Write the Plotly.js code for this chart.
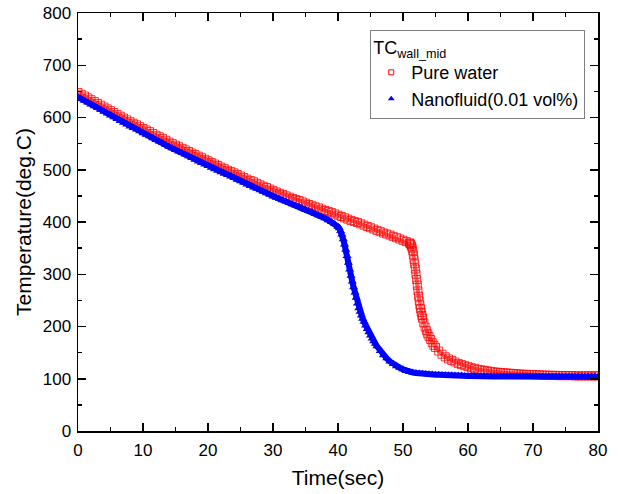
<!DOCTYPE html>
<html>
<head>
<meta charset="utf-8">
<script src="https://cdn.plot.ly/plotly-3.0.1.min.js"></script>
<style>html,body{margin:0;padding:0;background:#fff;}#chart{width:618px;height:494px;}</style>
</head>
<body>
<div id="chart"></div>
<script>
// Pure water (TC wall_mid)
var waterTime = [
0,0.5,1,1.5,2,2.5,3,3.5,4,4.5,5,5.5,6,6.5,7,7.5,8,8.5,9,9.5,
10,10.5,11,11.5,12,12.5,13,13.5,14,14.5,15,15.5,16,16.5,17,17.5,18,18.5,19,19.5,
20,20.5,21,21.5,22,22.5,23,23.5,24,24.5,25,25.5,26,26.5,27,27.5,28,28.5,29,29.5,
30,30.5,31,31.5,32,32.5,33,33.5,34,34.5,35,35.5,36,36.5,37,37.5,38,38.5,39,39.5,
40,40.5,41,41.5,42,42.5,43,43.5,44,44.5,45,45.5,46,46.5,47,47.5,48,48.5,49,49.5,
50,50.5,51,51.1,51.2,51.3,51.4,51.5,51.6,51.7,51.8,51.9,52,52.1,52.2,52.3,52.4,52.5,52.6,52.7,52.8,52.9,
53,53.2,53.4,53.6,53.8,54,54.25,54.5,54.75,55,55.5,56,56.5,57,57.5,58,58.5,59,59.5,
60,60.5,61,61.5,62,62.5,63,63.5,64,64.5,65,65.5,66,66.5,67,67.5,68,68.5,69,69.5,
70,70.5,71,71.5,72,72.5,73,73.5,74,74.5,75,75.5,76,76.5,77,77.5,78,78.5,79,79.5,80];
var waterTemp = [
648,644.5,641,637.5,634,630.5,627,623.5,620,616.5,613,609.5,606,602.5,599,595.5,592,589,586,582.5,
579,576,573,569.5,566,563,560,556.5,553,550,547,544,541,538,535,532,529,526,523,520,
517,514,511,508,505,502,499,496.5,494,491,488,485,482,479.5,477,474,471,468.5,466,463,
460,457.5,455,452.5,450,447.5,445,443,441,438.5,436,433.5,431,429,427,424.5,422,420,418,415.5,
413,410.5,408,405.5,403,401,399,396.5,394,391.5,389,386.5,384,381.5,379,377,375,372.5,370,367.5,
365,362.5,360,359,357,354,350,345,337,328,320,310,300,290,279,268,258,249,241,234,227,221,
216,207,199,192,186,181,175,169,164,160,153,147,142,138,135,132,129,127,125,
123,121,120,118,117,116,115,114,113,112.5,112,111.5,111,110.5,110,109.5,109,108.5,108.5,108,
108,107.5,107.5,107,107,106.5,106.5,106.5,106,106,106,106,106,105.5,105.5,105.5,105.5,105.5,105.5,105.5,105.5];

// Nanofluid (0.01 vol%)
var nanoTime = [
0,0.5,1,1.5,2,2.5,3,3.5,4,4.5,5,5.5,6,6.5,7,7.5,8,8.5,9,9.5,
10,10.5,11,11.5,12,12.5,13,13.5,14,14.5,15,15.5,16,16.5,17,17.5,18,18.5,19,19.5,
20,20.5,21,21.5,22,22.5,23,23.5,24,24.5,25,25.5,26,26.5,27,27.5,28,28.5,29,29.5,
30,30.5,31,31.5,32,32.5,33,33.5,34,34.5,35,35.5,36,36.5,37,37.5,38,38.5,39,39.5,
40,40.2,40.4,40.6,40.8,41,41.2,41.4,41.6,41.8,42,42.2,42.4,42.6,42.8,43,43.2,43.4,43.6,43.8,
44,44.25,44.5,44.75,45,45.25,45.5,45.75,46,46.5,47,47.5,48,48.5,49,49.5,
50,50.5,51,51.5,52,52.5,53,53.5,54,54.5,55,55.5,56,56.5,57,57.5,58,58.5,59,59.5,
60,60.5,61,61.5,62,62.5,63,63.5,64,64.5,65,65.5,66,66.5,67,67.5,68,68.5,69,69.5,
70,70.5,71,71.5,72,72.5,73,73.5,74,74.5,75,75.5,76,76.5,77,77.5,78,78.5,79,79.5,80];
var nanoTemp = [
639,635.5,632,628.5,625,621.5,618,614.5,611,607.5,604,600.5,597,593.5,590,586.5,583,580,577,573.5,
570,567,564,560.5,557,554,551,547.5,544,541,538,535,532,529,526,522.5,519,516,513,510,
507,504,501,498,495,492.5,490,487,484,481,478,475,472,469,466,463.5,461,458,455,452,
449,446.5,444,441.5,439,436.5,434,431.5,429,426.5,424,421.5,419,416,413,410,407,403.5,400,396,
391,388,383,376,367,357,347,335,322,309,297,286,275,265,255,244,235,228,221,215,
209,202,195,189,183,177,172,167,162,153,145,139,133,128,124,121,
118,115,113,112,111,110,109.5,109,108.5,108,107.5,107.5,107,107,106.5,106.5,106,106,106,105.5,
105.5,105.5,105,105,105,105,104.5,104.5,104.5,104.5,104.5,104.5,104.5,104,104,104,104,104,104,104,
104,104,104,104,104,104,104,104,104,104,104,104,104,104,104,104,104,104,104,104,104];

var xTickVals = [0,10,20,30,40,50,60,70,80];
var yTickVals = [0,100,200,300,400,500,600,700,800];

var FONT = 'Liberation Sans, Arial, sans-serif';

var traces = [
  {x: waterTime, y: waterTemp, type: 'scatter', mode: 'lines+markers', name: 'Pure water', showlegend: false,
   line: {color: 'rgba(255,40,40,0.75)', width: 4},
   marker: {symbol: 'square-open', size: 8, color: 'rgba(255,0,0,0.8)', line: {width: 1, color: 'rgba(255,0,0,0.8)'}}},
  {x: nanoTime, y: nanoTemp, type: 'scatter', mode: 'lines+markers', name: 'Nanofluid(0.01 vol%)', showlegend: false,
   line: {color: '#0000ff', width: 6},
   marker: {symbol: 'triangle-up', size: 8, color: '#0000ff', line: {width: 0}}},
  {x: [null], y: [null], type: 'scatter', mode: 'markers', name: 'Pure water',
   marker: {symbol: 'square-open', size: 5, color: '#ff0000', line: {width: 1, color: '#ff6060'}}},
  {x: [null], y: [null], type: 'scatter', mode: 'markers', name: 'Nanofluid(0.01 vol%)',
   marker: {symbol: 'triangle-up', size: 6, color: '#0000ff', line: {width: 0}}}
];

var axisCommon = {
  showgrid: false, zeroline: false, showline: true, mirror: 'allticks',
  linecolor: '#000', linewidth: 1.5,
  ticks: 'inside', ticklen: 8, tickwidth: 1.5, tickcolor: '#000',
  tickfont: {family: FONT, size: 17, color: '#000'}
};

var layout = {
  width: 618, height: 494,
  margin: {l: 78, r: 20, t: 13, b: 63},
  paper_bgcolor: '#ffffff', plot_bgcolor: '#ffffff',
  font: {family: FONT, color: '#000', size: 17},
  showlegend: true,
  legend: {
    x: 0.562, y: 0.96, xanchor: 'left', yanchor: 'top',
    bgcolor: '#ffffff', bordercolor: '#808080', borderwidth: 1,
    font: {family: FONT, size: 18, color: '#000'},
    title: {text: 'TC<sub>wall_mid</sub>', font: {family: FONT, size: 18, color: '#000'}},
    itemsizing: 'trace', tracegroupgap: 0
  },
  xaxis: Object.assign({}, axisCommon, {
    range: [0, 80], tickvals: xTickVals, ticktext: xTickVals.map(String),
    ticklabelstandoff: 3,
    minor: {dtick: 5, ticks: 'inside', ticklen: 4, tickwidth: 1.5, tickcolor: '#000', showgrid: false},
    title: {text: 'Time(sec)', font: {family: FONT, size: 21, color: '#000'}, standoff: 11}
  }),
  yaxis: Object.assign({}, axisCommon, {
    range: [0, 800], tickvals: yTickVals, ticktext: yTickVals.map(String),
    ticklabelstandoff: 2,
    minor: {dtick: 50, ticks: 'inside', ticklen: 4, tickwidth: 1.5, tickcolor: '#000', showgrid: false},
    title: {text: 'Temperature(deg.C)', font: {family: FONT, size: 21, color: '#000'}, standoff: 5}
  })
};

Plotly.newPlot('chart', traces, layout, {displayModeBar: false, staticPlot: true});
</script>
</body>
</html>
